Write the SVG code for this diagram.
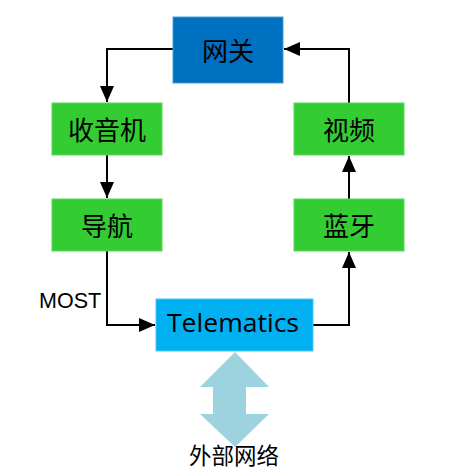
<svg xmlns="http://www.w3.org/2000/svg" width="449" height="473" viewBox="0 0 449 473">
<style>
.n{fill:#33cc33;stroke:#5ad65a;stroke-width:1}
.t{font-family:"Noto Sans CJK SC","Liberation Sans",sans-serif;font-size:26px;fill:#000;text-anchor:middle;dominant-baseline:central}
.c{fill:none;stroke:#000;stroke-width:2}
</style>
<defs>
<marker id="ah" viewBox="0 0 16 14" refX="16" refY="7" markerWidth="16" markerHeight="14" markerUnits="userSpaceOnUse" orient="auto">
<path d="M0,0 L16,7 L0,14 Z" fill="#000"/>
</marker>
</defs>
<rect width="449" height="473" fill="#fff"/>
<g id="connectors">
<path class="c" d="M173,49 H107 V102" marker-end="url(#ah)"/>
<path class="c" d="M107,155 V198" marker-end="url(#ah)"/>
<path class="c" d="M107,251 V325 H155" marker-end="url(#ah)"/>
<path class="c" d="M313,325 H349 V252" marker-end="url(#ah)"/>
<path class="c" d="M349,199 V156" marker-end="url(#ah)"/>
<path class="c" d="M349,103 V49 H284" marker-end="url(#ah)"/>
<text x="39" y="308" font-family="Liberation Sans,sans-serif" font-size="21.5" fill="#000">MOST</text>
</g>
<g id="gateway">
<rect x="173" y="17" width="110" height="66" fill="#0070c0" stroke="#4a9bd6" stroke-width="1"/>
<text class="t" x="228" y="49">网关</text>
</g>
<g id="radio">
<rect class="n" x="52" y="103" width="110" height="52"/>
<text class="t" x="107" y="128">收音机</text>
</g>
<g id="nav">
<rect class="n" x="52" y="199" width="110" height="52"/>
<text class="t" x="107" y="224">导航</text>
</g>
<g id="video">
<rect class="n" x="294" y="103" width="110" height="52"/>
<text class="t" x="349" y="128">视频</text>
</g>
<g id="bluetooth">
<rect class="n" x="294" y="199" width="110" height="52"/>
<text class="t" x="349" y="224">蓝牙</text>
</g>
<g id="telematics">
<rect x="156" y="299" width="157" height="52" fill="#00b0f0" stroke="#4fc6f2" stroke-width="1"/>
<text x="233" y="332" font-family="Open Sans,Liberation Sans,sans-serif" font-size="26" text-anchor="middle" textLength="132" lengthAdjust="spacingAndGlyphs" fill="#000">Telematics</text>
</g>
<g id="external">
<path d="M235,352 L269,387 L246,387 L246,414 L269,414 L235,447 L200,414 L213,414 L213,387 L200,387 Z" fill="#9dd3df"/>
<text class="t" x="234" y="454" style="font-size:22.5px">外部网络</text>
</g>
</svg>
